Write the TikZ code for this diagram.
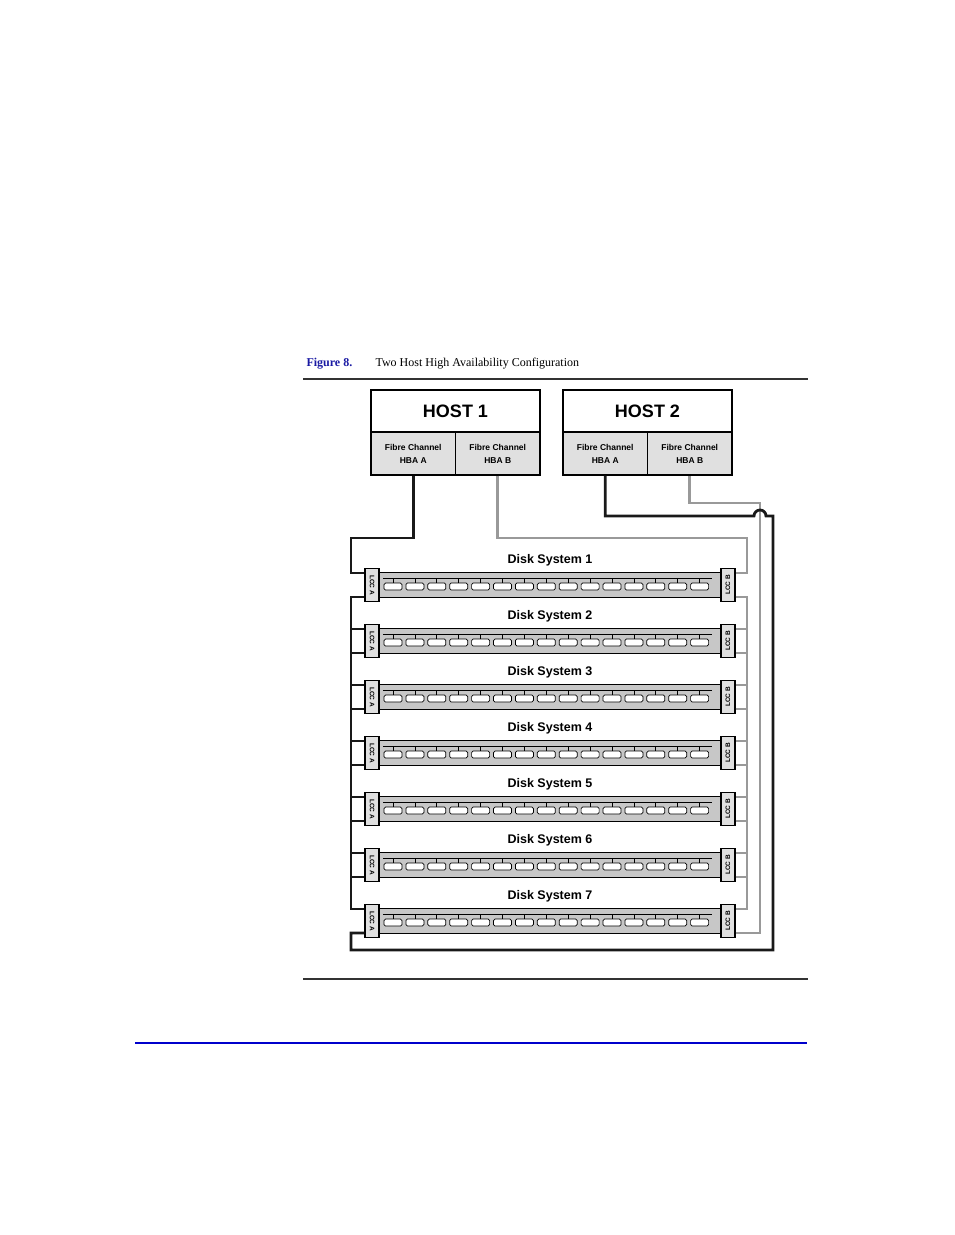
\documentclass[tikz,border=0pt]{standalone}
\usepackage{fontspec}
\setmainfont{Liberation Serif}
\newfontfamily\hfont{Liberation Sans}
\begin{document}
\begin{tikzpicture}[x=1pt,y=-1pt,
  blk/.style={line width=2.8pt,black!90},
  gry/.style={line width=2.8pt,black!40},
  hostbox/.style={draw,line width=1.4pt,minimum width=169pt,minimum height=42pt,inner sep=0pt,font=\hfont\bfseries\fontsize{18}{18}\selectfont},
  hbabox/.style={draw,line width=1.4pt,fill=black!12,minimum width=84.5pt,minimum height=43pt,inner sep=0pt,align=center,font=\hfont\bfseries\fontsize{8.5}{13}\selectfont},
  chassis/.style={draw,line width=1.2pt,fill=black!22,minimum width=342pt,minimum height=25pt,inner sep=0pt},
  lcc/.style={draw,line width=1.2pt,fill=black!12,minimum width=14pt,minimum height=33pt,inner sep=0pt,font=\hfont\bfseries\fontsize{6.5}{7}\selectfont},
  dslabel/.style={font=\hfont\bfseries\fontsize{12.5}{12.5}\selectfont}]
\useasboundingbox (0,0) rectangle (954,1235);
\node[anchor=base west,text=blue!60!black!90,font=\bfseries\fontsize{12}{12}\selectfont] (fig) at (303,366) {Figure 8.};
\node[anchor=base west,font=\fontsize{12}{12}\selectfont] (cap) at (372,366) {Two Host High Availability Configuration};
\draw[line width=1.6pt,black!80] (303,379) -- (808,379);
\draw[line width=1.6pt,black!80] (303,979) -- (808,979);
\draw[line width=1.4pt,blue!80!black] (135,1043) -- (807,1043);
% hosts
\node[hostbox] (h1) at (455.5,411) {HOST 1};
\node[hbabox] (h1a) at (413.25,453.5) {Fibre Channel\\HBA A};
\node[hbabox] (h1b) at (497.75,453.5) {Fibre Channel\\HBA B};
\node[hostbox] (h2) at (647.5,411) {HOST 2};
\node[hbabox] (h2a) at (605.25,453.5) {Fibre Channel\\HBA A};
\node[hbabox] (h2b) at (689.75,453.5) {Fibre Channel\\HBA B};
% disk systems
\foreach \i in {1,...,7}{
  \pgfmathsetmacro\y{585+56*(\i-1)}
  \node[dslabel] (dl\i) at (550,\y-25) {Disk System \i};
  \node[chassis] (ds\i) at (550,\y) {};
  \draw[line width=0.7pt] (383,\y-7) -- (712,\y-7);
  \foreach \k in {0,...,14}{
    \pgfmathsetmacro\cx{393+21.9*\k}
    \draw[line width=0.7pt,fill=white,rounded corners=1.5pt] (\cx-9,\y-2) rectangle (\cx+9,\y+5);
    \draw[line width=0.7pt] (\cx,\y-7) -- (\cx,\y-2);
  }
  \node[lcc] (la\i) at (372,\y) {\rotatebox{-90}{LCC A}};
  \node[lcc] (lb\i) at (728,\y) {\rotatebox{90}{LCC B}};
}
% black chain (LCC A side)
\draw[blk] (h1a.south) |- (351,538) |- ([yshift=12pt]la1.west);
\foreach \i [evaluate=\i as \j using int(\i+1)] in {1,...,6}{
  \draw[blk] ([yshift=-12pt]la\i.west) -| (351,600) |- ([yshift=12pt]la\j.west);
}
% gray chain (LCC B side)
\draw[gry] (h1b.south) |- (747,538) |- ([yshift=12pt]lb1.east);
\foreach \i [evaluate=\i as \j using int(\i+1)] in {1,...,6}{
  \draw[gry] ([yshift=-12pt]lb\i.east) -| (747,600) |- ([yshift=12pt]lb\j.east);
}
\draw[gry] ([yshift=-12pt]lb7.east) -| (760,503) -| (h2b.south);
\draw[blk] ([yshift=-12pt]la7.west) -| (351,950) -| (773,516) -- (766,516)
  arc[start angle=0,end angle=-180,radius=6] -- (754,516) -| (h2a.south);
\end{tikzpicture}
\end{document}
